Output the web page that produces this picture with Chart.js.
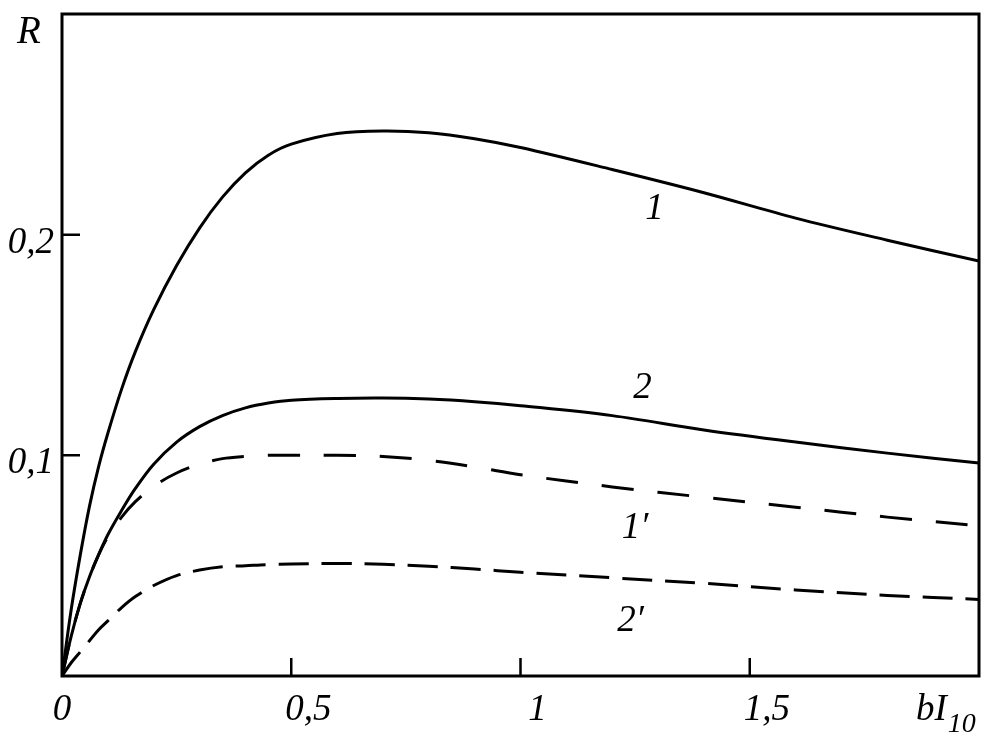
<!DOCTYPE html>
<html>
<head>
<meta charset="utf-8">
<script src="https://cdn.jsdelivr.net/npm/chart.js@4.4.1/dist/chart.umd.min.js"></script>
<style>
  html, body { margin: 0; padding: 0; background: #fff; }
  #wrap { width: 997px; height: 747px; }
</style>
</head>
<body>
<div id="wrap"><canvas id="chart" width="997" height="747"></canvas></div>
<script>
// bI10 values (x axis)
const X_VALS = [0, 0.02, 0.04, 0.06, 0.08, 0.1, 0.13, 0.16, 0.2, 0.25, 0.3, 0.35, 0.4, 0.45, 0.5,
                0.6, 0.7, 0.8, 0.9, 1.0, 1.2, 1.4, 1.6, 1.8, 2.0];

// R for the four curves
const R_1  = [0, 0.03, 0.055, 0.077, 0.095, 0.11, 0.13, 0.147, 0.166, 0.186, 0.203, 0.217, 0.228, 0.236, 0.241,
              0.2458, 0.247, 0.2462, 0.2435, 0.2395, 0.2295, 0.219, 0.2075, 0.1975, 0.188];
const R_2  = [0, 0.018, 0.033, 0.045, 0.055, 0.064, 0.075, 0.085, 0.096, 0.106, 0.113, 0.118, 0.1215, 0.1237, 0.125,
              0.1258, 0.126, 0.1255, 0.1243, 0.1225, 0.118, 0.1115, 0.106, 0.101, 0.0965];
const R_1p = [0, 0.018, 0.033, 0.045, 0.055, 0.063, 0.072, 0.079, 0.086, 0.092, 0.096, 0.0985, 0.0995, 0.1, 0.1,
              0.1, 0.0995, 0.0977, 0.0947, 0.0912, 0.0857, 0.081, 0.0765, 0.072, 0.068];
const R_2p = [0, 0.006, 0.011, 0.016, 0.021, 0.025, 0.031, 0.036, 0.041, 0.0455, 0.048, 0.0495, 0.05, 0.0505, 0.0507,
              0.051, 0.0506, 0.0497, 0.0485, 0.047, 0.0445, 0.042, 0.039, 0.0365, 0.0347];

// ticks
const X_TICKS = [0, 0.5, 1, 1.5];
const X_TICK_LABELS = ["0", "0,5", "1", "1,5"];
const Y_TICKS = [0.1, 0.2];
const Y_TICK_LABELS = ["0,1", "0,2"];

// curve names and where they sit (data coords)
const CURVE_NAMES = ["1", "2", "1\u2032", "2\u2032"];
const CURVE_NAME_X = [1.292, 1.266, 1.25, 1.24];
const CURVE_NAME_Y = [0.2113, 0.1304, 0.067, 0.0247];

const FONT = '"Liberation Serif", "DejaVu Serif", serif';
const INK = "#000";

function pts(ys){ return X_VALS.map((x, i) => ({ x, y: ys[i] })); }

function curve(ys, dash){
  return {
    data: pts(ys),
    borderColor: INK,
    borderWidth: 3,
    borderDash: dash,
    pointRadius: 0,
    fill: false,
    tension: 0.35
  };
}

// frame, inward ticks and all the text
const framePlugin = {
  id: "frame",
  afterDatasetsDraw(chart){
    const { ctx, chartArea: a, scales: { x, y } } = chart;
    ctx.save();
    ctx.strokeStyle = INK;
    ctx.lineWidth = 3;
    ctx.lineCap = "butt";
    ctx.strokeRect(a.left, a.top, a.right - a.left, a.bottom - a.top);

    ctx.lineWidth = 2.5;
    ctx.beginPath();
    X_TICKS.forEach(v => {
      if (v === 0) return;
      const px = x.getPixelForValue(v);
      ctx.moveTo(px, a.bottom); ctx.lineTo(px, a.bottom - 18);
    });
    Y_TICKS.forEach(v => {
      const py = y.getPixelForValue(v);
      ctx.moveTo(a.left, py); ctx.lineTo(a.left + 18, py);
    });
    ctx.stroke();

    ctx.fillStyle = INK;
    ctx.font = `italic 37px ${FONT}`;
    ctx.textBaseline = "alphabetic";

    // x labels
    ctx.textAlign = "center";
    X_TICKS.forEach((v, i) => {
      const px = x.getPixelForValue(v) + (v === 0 ? 0 : 17);
      ctx.fillText(X_TICK_LABELS[i], px, a.bottom + 44);
    });

    // y labels
    ctx.textAlign = "right";
    Y_TICKS.forEach((v, i) => {
      ctx.fillText(Y_TICK_LABELS[i], a.left - 8, y.getPixelForValue(v) + 18);
    });

    // axis titles
    ctx.textAlign = "left";
    ctx.font = `italic 39px ${FONT}`;
    ctx.fillText("R", 17, 43);
    ctx.font = `italic 37px ${FONT}`;
    ctx.fillText("bI", 916, a.bottom + 44);
    const w = ctx.measureText("bI").width;
    ctx.font = `italic 28px ${FONT}`;
    ctx.fillText("10", 916 + w + 1, a.bottom + 56);

    // curve names
    ctx.font = `italic 37px ${FONT}`;
    ctx.textAlign = "center";
    ctx.textBaseline = "middle";
    CURVE_NAMES.forEach((t, i) => {
      ctx.fillText(t, x.getPixelForValue(CURVE_NAME_X[i]), y.getPixelForValue(CURVE_NAME_Y[i]));
    });
    ctx.restore();
  }
};

document.addEventListener("DOMContentLoaded", () => {
  const el = document.getElementById("chart");
  new Chart(el, {
    type: "line",
    data: {
      datasets: [
        curve(R_1, []),
        curve(R_2, []),
        curve(R_1p, [32, 24]),
        curve(R_2p, [30, 13])
      ]
    },
    options: {
      responsive: false,
      animation: false,
      layout: { padding: { left: 62, right: 18, top: 14, bottom: 71 } },
      plugins: { legend: { display: false }, tooltip: { enabled: false } },
      scales: {
        x: { type: "linear", min: 0, max: 2, display: false },
        y: { type: "linear", min: 0, max: 0.3, display: false }
      }
    },
    plugins: [framePlugin]
  });
});
</script>
</body>
</html>
